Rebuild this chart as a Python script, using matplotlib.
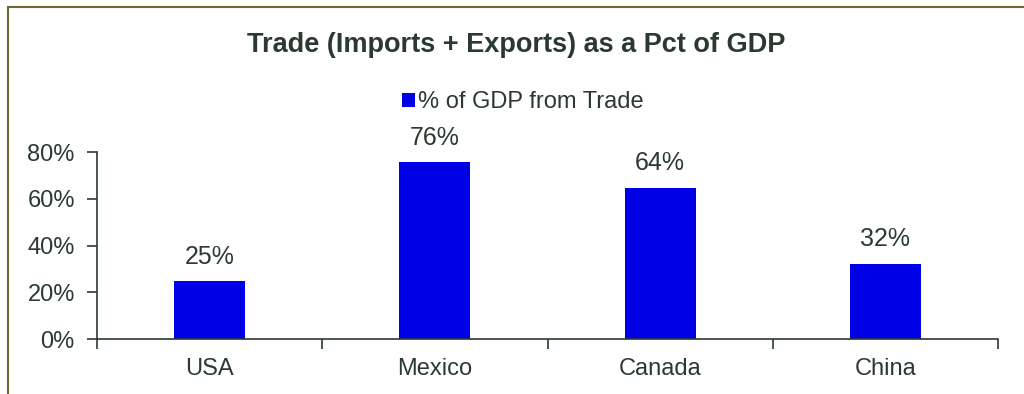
import matplotlib.pyplot as plt
from matplotlib.patches import Rectangle
from matplotlib.ticker import FixedLocator, PercentFormatter

plt.rcParams["font.family"] = ["Liberation Sans", "DejaVu Sans"]

# ---------- Data ----------
countries = ["USA", "Mexico", "Canada", "China"]
trade_pct = [24.8, 75.7, 64.6, 32.1]
bar_labels = ["25%", "76%", "64%", "32%"]
y_ticks = [0, 20, 40, 60, 80]

TXT = "#2b3a30"
BLUE = "#0000e6"

fig = plt.figure(figsize=(10.24, 3.94), dpi=100)
ax = fig.add_axes([97/1024, 1 - 339/394, (998 - 97)/1024, (339 - 152)/394])

x = list(range(len(countries)))
bars = ax.bar(x, trade_pct, width=0.315, color=BLUE, label="% of GDP from Trade")
for b, lbl in zip(bars, bar_labels):
    ax.annotate(lbl, (b.get_x() + b.get_width()/2, b.get_height()),
                textcoords="offset points", xytext=(0, 9), ha="center", va="bottom",
                fontsize=18, color=TXT, annotation_clip=False)

ax.set_xlim(-0.5, len(countries) - 0.5)
ax.set_ylim(0, 80)
ax.set_yticks(y_ticks)
ax.yaxis.set_major_formatter(PercentFormatter(decimals=0))
ax.set_xticks(x)
ax.set_xticklabels(countries)
ax.xaxis.set_minor_locator(FixedLocator([i - 0.5 for i in range(len(countries) + 1)]))
ax.tick_params(axis="x", which="major", length=0, pad=14, labelsize=17, labelcolor=TXT)
ax.tick_params(axis="x", which="minor", length=7, width=1.2, color=TXT)
ax.tick_params(axis="y", length=7, width=1.2, color=TXT, labelsize=17, labelcolor=TXT, pad=9)

for side in ["top", "right"]:
    ax.spines[side].set_visible(False)
for side in ["left", "bottom"]:
    ax.spines[side].set_color(TXT)
    ax.spines[side].set_linewidth(1.2)

ax.legend(loc="center", bbox_to_anchor=(523/1024, 1 - 102/394), bbox_transform=fig.transFigure,
          frameon=False, fontsize=17, handlelength=0.55, handleheight=0.55,
          handletextpad=0.15, borderaxespad=0, borderpad=0, labelcolor=TXT)

fig.text(516/1024, 1 - 45/394, "Trade (Imports + Exports) as a Pct of GDP", ha="center", va="center",
         fontsize=19.5, fontweight="bold", color=TXT)

# olive chart-area border
fig.patches.append(Rectangle((8/1024, -0.1), 1.1, 1.1 - 7/394, transform=fig.transFigure,
                             fill=False, edgecolor="#6f6530", linewidth=1.5))

fig.savefig("out.png", dpi=100)
